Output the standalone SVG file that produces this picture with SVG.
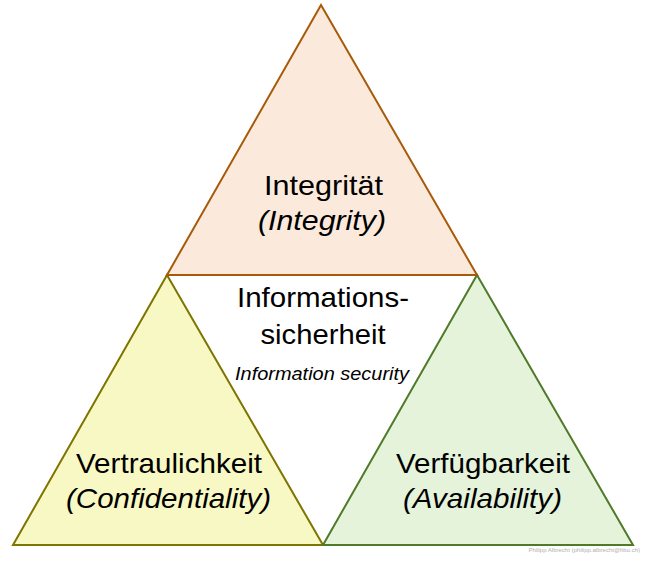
<svg xmlns="http://www.w3.org/2000/svg" width="646" height="563" viewBox="0 0 646 563">
<style>
.t{font-family:"Liberation Sans",Arial,sans-serif;font-size:28px;fill:#000;text-anchor:middle}
.i{font-style:italic}
.s{font-size:19px}
.tri{stroke-width:2;stroke-linejoin:miter}
.wm{font-family:"Liberation Sans",Arial,sans-serif;font-size:6px;fill:#b0b0b0;text-anchor:end}
</style>
<rect width="646" height="563" fill="#fff"/>
<g id="confidentiality">
<polygon class="tri" points="167,275 13,545 323,545" fill="#F8F8C4" stroke="#7F7400"/>
<text class="t" x="169" y="473" textLength="186" lengthAdjust="spacingAndGlyphs">Vertraulichkeit</text>
<text class="t i" x="168.5" y="508" textLength="205" lengthAdjust="spacingAndGlyphs">(Confidentiality)</text>
</g>
<g id="availability">
<polygon class="tri" points="477,275 323,545 633,545" fill="#E4F3DA" stroke="#4F7A2A"/>
<text class="t" x="483" y="473" textLength="174" lengthAdjust="spacingAndGlyphs">Verfügbarkeit</text>
<text class="t i" x="482.5" y="508" textLength="159" lengthAdjust="spacingAndGlyphs">(Availability)</text>
</g>
<g id="integrity">
<polygon class="tri" points="321,5 167,275 477,275" fill="#FBEADB" stroke="#A65A0A"/>
<text class="t" x="323.5" y="195" textLength="119" lengthAdjust="spacingAndGlyphs">Integrität</text>
<text class="t i" x="322" y="230" textLength="128" lengthAdjust="spacingAndGlyphs">(Integrity)</text>
</g>
<g id="information-security">
<text class="t" x="323" y="307" textLength="172" lengthAdjust="spacingAndGlyphs">Informations-</text>
<text class="t" x="323" y="344" textLength="125" lengthAdjust="spacingAndGlyphs">sicherheit</text>
<text class="t i s" x="322" y="380" textLength="174" lengthAdjust="spacingAndGlyphs">Information security</text>
</g>
<g id="connectors"></g>
<text class="wm" x="640" y="552">Philipp Albrecht (philipp.albrecht@hbo.ch)</text>
</svg>
